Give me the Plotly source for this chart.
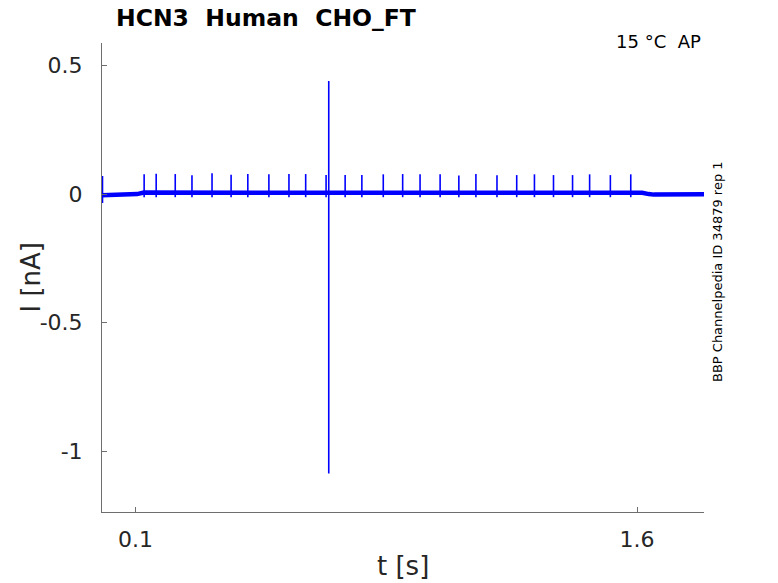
import plotly.graph_objects as go

# ---- data ----
# slow baseline of the current trace (time in s, current in nA)
base_t = [0.0, 0.09, 0.105, 0.125, 0.40, 0.80, 1.00, 1.30, 1.60, 1.615, 1.635, 1.65, 1.80]
base_i = [-0.004, -0.003, 0.000, 0.006, 0.006, 0.007, 0.008, 0.007, 0.007, 0.005, 0.000, -0.002, -0.001]

# small periodic spikes (time, peak current)
spike_t = [0.126, 0.162, 0.219, 0.269, 0.329, 0.386, 0.436, 0.499, 0.559, 0.609, 0.670,
           0.727, 0.777, 0.841, 0.899, 0.951, 1.011, 1.067, 1.118, 1.181, 1.240, 1.293,
           1.350, 1.407, 1.458, 1.520, 1.581]
spike_peak = [0.077, 0.079, 0.078, 0.073, 0.081, 0.075, 0.078, 0.077, 0.078, 0.078, 0.074,
              0.074, 0.074, 0.077, 0.078, 0.077, 0.077, 0.072, 0.078, 0.073, 0.074, 0.077,
              0.074, 0.074, 0.077, 0.074, 0.077]
spike_low = -0.012

# large artefact and the initial transient (time, max, min)
big_t, big_max, big_min = 0.678, 0.440, -1.087
start_t, start_max, start_min = 0.0015, 0.070, -0.035

x_ticks = [0.1, 1.6]
x_ticktext = ["0.1", "1.6"]
y_ticks = [-1, -0.5, 0, 0.5]
y_ticktext = ["-1", "-0.5", "0", "0.5"]

NB = "\u00a0"
title = "HCN3" + NB * 2 + "Human" + NB * 2 + "CHO_FT"
cond = "15" + NB + "°C" + NB * 2 + "AP"
side = "BBP Channelpedia ID 34879 rep 1"

BLUE = "#0000FF"
FONT = "DejaVu Sans"
AXC = "#6e6e6e"
TXT = "#262626"

# ---- spikes as vertical segments ----
sx, sy = [], []
for t, p in zip(spike_t, spike_peak):
    sx += [t, t, None]
    sy += [spike_low, p, None]
sx += [big_t, big_t, None, start_t, start_t, None]
sy += [big_min, big_max, None, start_min, start_max, None]

fig = go.Figure()
fig.add_trace(go.Scatter(x=base_t, y=base_i, mode="lines",
                         line=dict(color=BLUE, width=4.5), hoverinfo="skip"))
fig.add_trace(go.Scatter(x=sx, y=sy, mode="lines",
                         line=dict(color=BLUE, width=1.6), hoverinfo="skip"))

fig.update_layout(
    width=778, height=583,
    margin=dict(l=102, r=74, t=43, b=71),
    paper_bgcolor="white", plot_bgcolor="white",
    showlegend=False,
    font=dict(family=FONT, color=TXT),
    xaxis=dict(range=[0.0, 1.8], tickvals=x_ticks, ticktext=x_ticktext,
               showgrid=False, zeroline=False, showline=True, linecolor=AXC, linewidth=1,
               ticks="inside", ticklen=5, tickcolor=AXC, tickfont=dict(size=22, color=TXT),
               ticklabelstandoff=8),
    yaxis=dict(range=[-1.237, 0.588], tickvals=y_ticks, ticktext=y_ticktext,
               showgrid=False, zeroline=False, showline=True, linecolor=AXC, linewidth=1,
               ticks="inside", ticklen=5, tickcolor=AXC, tickfont=dict(size=22, color=TXT),
               ticklabelstandoff=14),
)

anns = [
    dict(text="<b>" + title + "</b>", x=(114 - 102) / 602, y=1, xref="paper", yref="paper",
         xanchor="left", yanchor="middle", yshift=25, font=dict(size=23.5, color="black")),
    dict(text=cond, x=1, y=1, xref="paper", yref="paper", xanchor="right", yanchor="middle",
         xshift=-1, yshift=2, font=dict(size=18, color="black")),
    dict(text=side, x=1, y=(512 - 272) / 469, xref="paper", yref="paper", xanchor="center",
         yanchor="middle", xshift=13, textangle=-90, font=dict(size=13, color="black")),
    dict(text="t [s]", x=0.5, y=0, xref="paper", yref="paper", xanchor="center",
         yanchor="middle", yshift=-54, font=dict(size=26, color=TXT)),
    dict(text="I [nA]", x=0, y=0.5, xref="paper", yref="paper", xanchor="center",
         yanchor="middle", xshift=-72, textangle=-90, font=dict(size=26, color=TXT)),
]
for a in anns:
    a["showarrow"] = False
    fig.add_annotation(**a)

fig.write_html("out.html", config={"displayModeBar": False},
               post_script="document.body.style.margin='0';document.body.style.overflow='hidden';")
